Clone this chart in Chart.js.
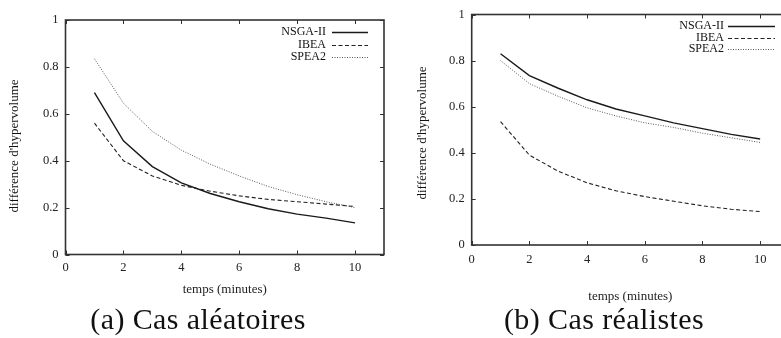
<!DOCTYPE html>
<html><head><meta charset="utf-8">
<script src="https://cdn.jsdelivr.net/npm/chart.js@4.4.0/dist/chart.umd.min.js"></script>
<style>
html,body{margin:0;padding:0;width:781px;height:338px;overflow:hidden;background:#fff;}
#wrapA{position:absolute;left:0;top:0;width:390px;height:305px;}
#wrapB{position:absolute;left:390px;top:0;width:420px;height:305px;}
.cap{position:absolute;font-family:"Liberation Serif",serif;font-size:30px;line-height:30px;letter-spacing:0.4px;color:#111;white-space:nowrap;transform:translateX(-50%);}
</style></head><body>
<div id="wrapA"><canvas id="cA" width="390" height="305"></canvas></div>
<div id="wrapB"><canvas id="cB" width="420" height="305"></canvas></div>
<div class="cap" style="left:198px;top:304px;">(a) Cas aléatoires</div>
<div class="cap" style="left:604px;top:304px;">(b) Cas réalistes</div>
<script>
const minutes = [1,2,3,4,5,6,7,8,9,10];
const xTicks = [0,2,4,6,8,10];
const yTicks = [0,0.2,0.4,0.6,0.8,1];
const seriesNames = ['NSGA-II','IBEA','SPEA2'];
const aNSGA2 = [0.69,0.485,0.375,0.305,0.26,0.225,0.195,0.172,0.155,0.135];
const aIBEA  = [0.56,0.40,0.335,0.295,0.27,0.25,0.235,0.225,0.215,0.205];
const aSPEA2 = [0.835,0.645,0.525,0.445,0.385,0.335,0.29,0.255,0.225,0.2];
const bNSGA2 = [0.83,0.735,0.68,0.63,0.59,0.56,0.53,0.505,0.48,0.46];
const bIBEA  = [0.535,0.39,0.32,0.27,0.235,0.21,0.19,0.17,0.155,0.145];
const bSPEA2 = [0.80,0.70,0.645,0.595,0.56,0.53,0.51,0.485,0.465,0.445];
const xTitle = 'temps (minutes)';
const yTitle = "différence d'hypervolume";

const FONT = '"Liberation Serif", "Times New Roman", serif';
const styles = [
  {color:'#1a1a1a', width:1.4, dash:[]},
  {color:'#222', width:1.1, dash:[4,2.5]},
  {color:'#555', width:1.0, dash:[1,1.5]}
];

const gnuplotFrame = {
  id:'gnuplotFrame',
  afterDraw(chart, args, o){
    const ctx = chart.ctx, ca = chart.chartArea;
    const xs = chart.scales.x, ys = chart.scales.y;
    ctx.save();
    ctx.strokeStyle = '#333'; ctx.lineWidth = 1;
    ctx.beginPath();
    xTicks.forEach(v=>{
      const px = Math.round(xs.getPixelForValue(v))+0.5;
      ctx.moveTo(px, ca.bottom); ctx.lineTo(px, ca.bottom-4);
      ctx.moveTo(px, ca.top); ctx.lineTo(px, ca.top+4);
    });
    yTicks.forEach(v=>{
      const py = Math.round(ys.getPixelForValue(v))+0.5;
      ctx.moveTo(ca.left, py); ctx.lineTo(ca.left+4, py);
      ctx.moveTo(ca.right, py); ctx.lineTo(ca.right-4, py);
    });
    ctx.stroke();
    ctx.lineWidth = 1.6; ctx.strokeStyle = '#333';
    ctx.strokeRect(ca.left, ca.top, ca.right-ca.left, ca.bottom-ca.top);
    // legend
    ctx.font = '12px ' + FONT;
    ctx.textAlign = 'right'; ctx.textBaseline = 'middle'; ctx.fillStyle = '#111';
    chart.data.datasets.forEach((ds,i)=>{
      const y = ca.top + o.rowStart + i*o.rowGap;
      ctx.fillText(ds.label, ca.right - o.textOff, y);
      ctx.save();
      ctx.strokeStyle = ds.borderColor; ctx.lineWidth = ds.borderWidth;
      ctx.setLineDash(ds.borderDash || []);
      ctx.beginPath();
      ctx.moveTo(ca.right - o.lineStart, Math.round(y)+0.5);
      ctx.lineTo(ca.right - o.lineEnd, Math.round(y)+0.5);
      ctx.stroke();
      ctx.restore();
    });
    // y title
    ctx.save();
    ctx.font = '13px ' + FONT; ctx.textAlign='center'; ctx.textBaseline='middle';
    ctx.translate(o.yTitleX, o.yTitleY); ctx.rotate(-Math.PI/2);
    ctx.fillText(yTitle, 0, 0);
    ctx.restore();
    ctx.restore();
  }
};

function makeChart(id, vals, cfg){
  const datasets = seriesNames.map((n,i)=>({
    label:n,
    data: minutes.map((m,j)=>({x:m, y:vals[i][j]})),
    borderColor: styles[i].color, borderWidth: styles[i].width, borderDash: styles[i].dash,
    pointRadius:0, tension:0, fill:false
  }));
  return new Chart(document.getElementById(id), {
    type:'line',
    data:{datasets},
    plugins:[gnuplotFrame],
    options:{
      responsive:false, animation:false, devicePixelRatio:1,
      layout:{padding:{left:0, top:cfg.top, right:cfg.right, bottom:0}},
      plugins:{legend:{display:false}, tooltip:{enabled:false}, gnuplotFrame:cfg.legend},
      scales:{
        x:{type:'linear', min:0, max:11,
          afterBuildTicks:s=>{s.ticks = xTicks.map(v=>({value:v}));},
          afterFit:s=>{s.height = cfg.xH;},
          grid:{display:false, drawTicks:false}, border:{display:false},
          ticks:{padding:cfg.xPad, color:'#222', font:{family:FONT, size:12.5}, callback:v=>String(v), maxRotation:0},
          title:{display:true, text:xTitle, color:'#222', font:{family:FONT, size:13}, padding:{top:0,bottom:cfg.xTitlePad}}
        },
        y:{type:'linear', min:0, max:1,
          afterBuildTicks:s=>{s.ticks = yTicks.map(v=>({value:v}));},
          afterFit:s=>{s.width = cfg.yW;},
          grid:{display:false, drawTicks:false}, border:{display:false},
          ticks:{padding:7, color:'#222', font:{family:FONT, size:12.5}, callback:v=>String(v)}
        }
      }
    }
  });
}

makeChart('cA', [aNSGA2, aIBEA, aSPEA2], {
  top:20, right:6, yW:65.5, xH:50.5, xPad:5.5, xTitlePad:7.5,
  legend:{rowStart:12.3, rowGap:12.5, textOff:58, lineStart:52, lineEnd:16, yTitleX:15, yTitleY:146}
});
makeChart('cB', [bNSGA2, bIBEA, bSPEA2], {
  top:11, right:21, yW:81.7, xH:60, xPad:7, xTitlePad:0.5,
  legend:{rowStart:11.7, rowGap:11.3, textOff:65, lineStart:61, lineEnd:14, yTitleX:33, yTitleY:133}
});
</script>
</body></html>
